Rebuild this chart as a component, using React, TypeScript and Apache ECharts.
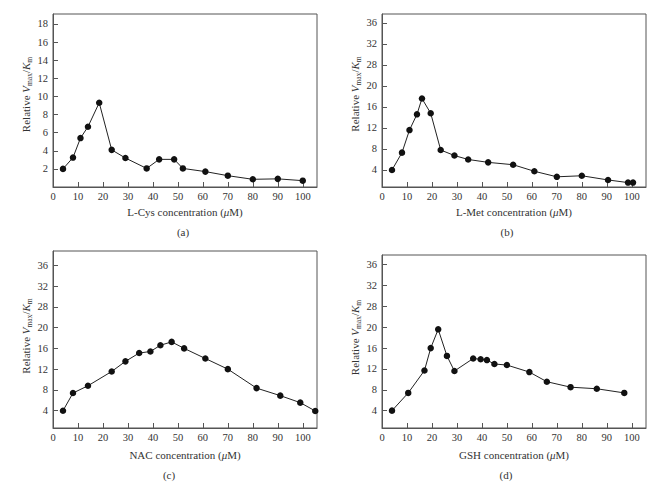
import React, { useEffect, useRef } from "react";
import * as echarts from "echarts";

// ---- data ----
const cysConc = [4, 8, 11, 14, 18.5, 23.5, 29, 37.5, 42.5, 48.5, 52, 61, 70, 80, 90, 100];
const cysRel = [2.0, 3.25, 5.4, 6.65, 9.3, 4.1, 3.2, 2.05, 3.05, 3.05, 2.05, 1.7, 1.25, 0.85, 0.9, 0.7];

const metConc = [4, 8, 11, 14, 16, 19.5, 23.5, 29, 34.5, 42.5, 52.5, 61, 70, 80, 90.5, 98.5, 100.5];
const metRel = [4.0, 7.3, 11.6, 14.6, 17.6, 14.8, 7.8, 6.75, 6.0, 5.45, 5.0, 3.75, 2.7, 2.9, 2.1, 1.6, 1.6];

const nacConc = [4, 8, 14, 23.5, 29, 34.5, 39, 43, 47.5, 52.5, 61, 70, 81.5, 91, 99, 105];
const nacRel = [4.0, 7.4, 8.8, 11.55, 13.5, 15.1, 15.4, 16.6, 17.25, 16.0, 14.05, 12.0, 8.35, 6.9, 5.55, 3.95];

const gshConc = [4, 10.5, 17, 19.5, 22.5, 26, 29, 36.5, 39.5, 42, 45, 50, 59, 66, 75.5, 86, 97];
const gshRel = [4.0, 7.4, 11.7, 16.0, 19.6, 14.5, 11.6, 14.0, 13.85, 13.7, 12.95, 12.75, 11.4, 9.55, 8.5, 8.2, 7.4];

// tick labels
const xTickValues = [0, 10, 20, 30, 40, 50, 60, 70, 80, 90, 100];
const yTickValuesA = [2, 4, 6, 8, 10, 12, 14, 16, 18];
const yTickValuesB = [4, 8, 12, 16, 20, 24, 28, 32];
const yTickLabelsB = ["4", "8", "12", "16", "20", "28", "32", "36"];

const xNames = ["L-Cys", "L-Met", "NAC", "GSH"];
const captions = ["(a)", "(b)", "(c)", "(d)"];

const FONT = "Liberation Serif";
const TEXT = "#333";
const AXIS = "#555";

export default function App() {
  const ref = useRef<HTMLDivElement>(null);

  useEffect(() => {
    if (!ref.current) return;
    const chart = echarts.init(ref.current, undefined, { renderer: "svg" });

    const grids = [
      { left: 53, top: 14, width: 264, height: 173 },
      { left: 382, top: 14, width: 264, height: 173 },
      { left: 53, top: 251, width: 264, height: 177 },
      { left: 382, top: 255, width: 264, height: 173 },
    ].map((g) => ({ ...g, show: true, borderColor: AXIS, borderWidth: 1, containLabel: false }));

    const yRanges = [
      [0, 19.1],
      [0.76, 33.7],
      [0.67, 34.75],
      [0.67, 33.86],
    ];
    const xNameGaps = [19, 19, 21.5, 21.5];
    const yNameGaps = [19, 18, 19, 19.5];
    const yNamePads = [12, 13, 7, 8];

    const xAxes = [0, 1, 2, 3].map((i) => ({
      type: "value",
      gridIndex: i,
      min: 0,
      max: 105.7,
      interval: 10,
      splitLine: { show: false },
      axisLine: { show: true, lineStyle: { color: AXIS, width: 1 } },
      axisTick: { show: true, inside: true, length: 5, lineStyle: { color: AXIS } },
      axisLabel: {
        show: true,
        margin: 4,
        fontFamily: FONT,
        fontSize: 10.5,
        color: TEXT,
        showMaxLabel: false,
        formatter: (v: number) => (xTickValues.indexOf(Math.round(v * 1000) / 1000) >= 0 ? String(v) : ""),
      },
      name: `{n|${xNames[i]} concentration (}{i|μ}{n|M)}`,
      nameLocation: "middle",
      nameGap: xNameGaps[i],
      nameTextStyle: {
        rich: {
          n: { fontFamily: FONT, fontSize: 11, color: TEXT },
          i: { fontFamily: FONT, fontSize: 11, color: TEXT, fontStyle: "italic" },
        },
      },
    }));

    const yName = "{r|Relative }{i|V}{s|max}{r|/}{i|K}{s|m}";
    const yRich = {
      r: { fontFamily: FONT, fontSize: 11, color: TEXT, lineHeight: 16 },
      i: { fontFamily: FONT, fontSize: 11, color: TEXT, fontStyle: "italic", lineHeight: 16 },
      s: { fontFamily: FONT, fontSize: 7.5, color: TEXT, lineHeight: 8, verticalAlign: "bottom" },
    };

    const yAxes = [0, 1, 2, 3].map((i) => {
      const isA = i === 0;
      const vals = isA ? yTickValuesA : yTickValuesB;
      return {
        type: "value",
        gridIndex: i,
        min: yRanges[i][0],
        max: yRanges[i][1],
        splitLine: { show: false },
        axisLine: { show: true, lineStyle: { color: AXIS, width: 1 } },
        axisTick: { show: true, inside: true, length: 5, lineStyle: { color: AXIS }, customValues: vals },
        axisLabel: {
          show: true,
          margin: 5,
          fontFamily: FONT,
          fontSize: 10.5,
          color: TEXT,
          customValues: vals,
          formatter: (v: number) => {
            if (isA) return String(v);
            const k = yTickValuesB.indexOf(Math.round(v));
            return k >= 0 ? yTickLabelsB[k] : "";
          },
        },
        name: yName,
        nameLocation: "middle",
        nameRotate: 90,
        nameGap: yNameGaps[i],
        nameTextStyle: { rich: yRich, padding: [0, 0, 0, yNamePads[i]] },
      };
    });

    const datasets = [
      [cysConc, cysRel],
      [metConc, metRel],
      [nacConc, nacRel],
      [gshConc, gshRel],
    ];

    const series = datasets.map(([xs, ys], i) => ({
      type: "line",
      xAxisIndex: i,
      yAxisIndex: i,
      data: xs.map((x, k) => [x, ys[k]]),
      symbol: "circle",
      symbolSize: 6.5,
      itemStyle: { color: "#111" },
      lineStyle: { color: "#222", width: 1 },
      silent: true,
    }));

    const capPos = [
      [183, 232],
      [507, 232],
      [169, 475],
      [506, 475],
    ];
    const graphic = captions.map((c, i) => ({
      type: "text",
      x: capPos[i][0],
      y: capPos[i][1],
      style: {
        text: c,
        fontFamily: FONT,
        fontSize: 11,
        fill: TEXT,
        textAlign: "center",
        textVerticalAlign: "middle",
      },
    }));

    chart.setOption({
      animation: false,
      backgroundColor: "#fff",
      grid: grids,
      xAxis: xAxes,
      yAxis: yAxes,
      series,
      graphic,
    } as any);

    return () => chart.dispose();
  }, []);

  return (
    <div
      ref={ref}
      style={{ position: "absolute", left: 0, top: 0, width: 668, height: 489 }}
    />
  );
}
